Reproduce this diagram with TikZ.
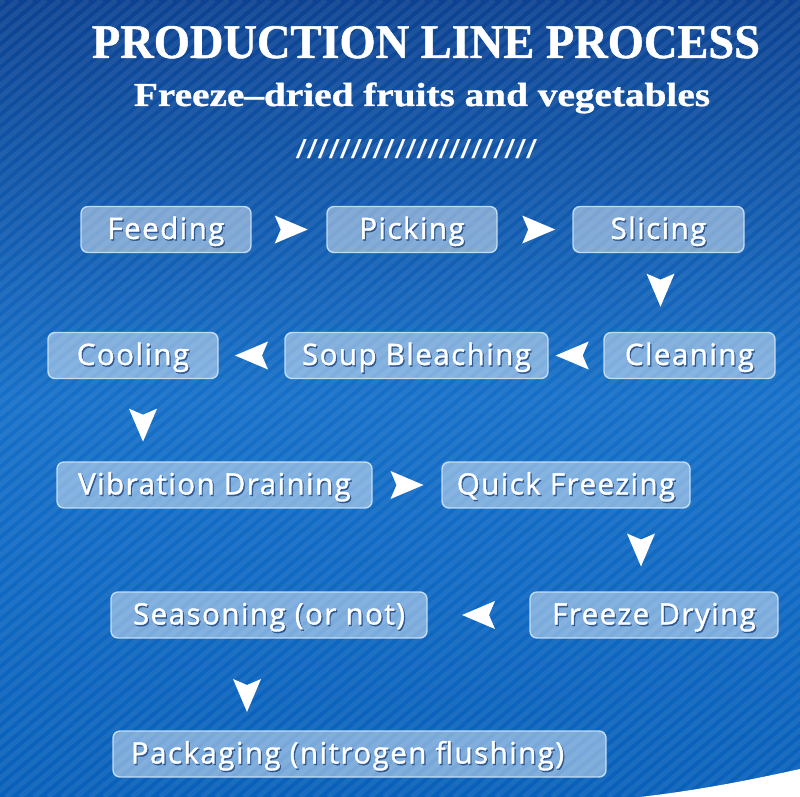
\documentclass[tikz,border=0pt]{standalone}
\usepackage{fontspec}
\usepackage{graphicx}
\usetikzlibrary{decorations.markings,calc}
\newfontfamily\titlefont[FakeBold=1]{Liberation Serif}
\newfontfamily\boxfont[FakeBold=1.3, LetterSpace=5]{Open Sans}
\newfontfamily\slashfont{Liberation Sans}
\definecolor{bgtop}{RGB}{12,66,145}
\definecolor{bgmid}{RGB}{22,112,200}
\definecolor{bgbot}{RGB}{8,96,186}
\definecolor{boxline}{RGB}{205,228,248}
\definecolor{txtshadow}{RGB}{45,88,145}
\newcommand{\shtxt}[1]{\rlap{\hspace{1.2pt}\raisebox{-1.5pt}{\color{txtshadow}#1}}#1}
\begin{document}
\begin{tikzpicture}[x=1pt,y=-1pt,
  procbox/.style={draw=boxline, line width=1.4pt, fill=white, fill opacity=0.45,
    draw opacity=0.9, text opacity=1, rounded corners=7pt, minimum height=46pt,
    inner sep=0pt, text height=22pt, text depth=3pt,
    font=\boxfont\fontsize{29.5}{31}\selectfont, text=white},
  flowarr/.style={decorate, decoration={markings, mark=at position #1 with
    {\fill[white] (16.5pt,0pt) -- (-16.5pt,14pt) -- (-10.5pt,0pt) -- (-16.5pt,-14pt) -- cycle;}}},
  flowarr/.default=0.5,
  titletext/.style={inner sep=0pt, anchor=base, text=white}]
\useasboundingbox (0,0) rectangle (800,797);
% background
\shade[top color=bgtop, bottom color=bgbot, middle color=bgmid] (0,0) rectangle (800,797);
\begin{scope}
  \clip (0,0) rectangle (800,797);
  \foreach \i in {-960,-946,...,810}
    \draw[white, opacity=0.07, line width=5pt] (\i,797) -- ++(950,-797);
  \fill[white] (640,797) .. controls (700,790) and (750,780) .. (800,769) -- (800,797) -- cycle;
\end{scope}
% titles
\node[titletext] (title) at (426,58) {\resizebox{668pt}{32pt}{\titlefont\bfseries PRODUCTION LINE PROCESS}};
\node[titletext] (subtitle) at (422,106) {\resizebox{576pt}{23.5pt}{\titlefont\bfseries Freeze–dried fruits and vegetables}};
\node[titletext] (slashes) at (416.5,158) {\resizebox{241pt}{19pt}{\slashfont //////////////////////}};
% boxes
\node[procbox, minimum width=170pt] (feed) at (166,229.5) {\shtxt{Feeding}};
\node[procbox, minimum width=170pt] (pick) at (412,229.5) {\shtxt{Picking}};
\node[procbox, minimum width=171pt] (slice) at (658.5,229.5) {\shtxt{Slicing}};
\node[procbox, minimum width=171pt] (clean) at (689.5,355.5) {\shtxt{Cleaning}};
\node[procbox, minimum width=263pt] (soup) at (416.5,355.5) {\shtxt{Soup Bleaching}};
\node[procbox, minimum width=170pt] (cool) at (133,355.5) {\shtxt{Cooling}};
\node[procbox, minimum width=315pt] (vib) at (214.5,485) {\shtxt{Vibration Draining}};
\node[procbox, minimum width=248pt] (quick) at (566,485) {\shtxt{Quick Freezing}};
\node[procbox, minimum width=248pt] (fdry) at (654,615) {\shtxt{Freeze Drying}};
\node[procbox, minimum width=316pt] (seas) at (269,615) {\shtxt{Seasoning (or not)}};
\node[procbox, minimum width=493pt] (pack) at (359.5,754) {\shtxt{Packaging (nitrogen flushing)}\kern24pt};
% arrows
\path[flowarr=0.53] (feed.east) -- (pick.west);
\path[flowarr=0.55] (pick.east) -- (slice.west);
\path[flowarr=0.47] ([xshift=2pt]slice.south) -- ([xshift=2pt]slice.south |- clean.north);
\path[flowarr=0.57] (clean.west) -- (soup.east);
\path[flowarr] (soup.west) -- (cool.east);
\path[flowarr=0.56] ([xshift=10pt]cool.south) -- ([xshift=10pt]cool.south |- vib.north);
\path[flowarr] (vib.east) -- (quick.west);
\path[flowarr] ([xshift=-13pt]fdry.north |- quick.south) -- ([xshift=-13pt]fdry.north);
\path[flowarr] (fdry.west) -- (seas.east);
\path[flowarr=0.62] ([xshift=-22pt]seas.south) -- ([xshift=-22pt]seas.south |- pack.north);
\end{tikzpicture}
\end{document}
